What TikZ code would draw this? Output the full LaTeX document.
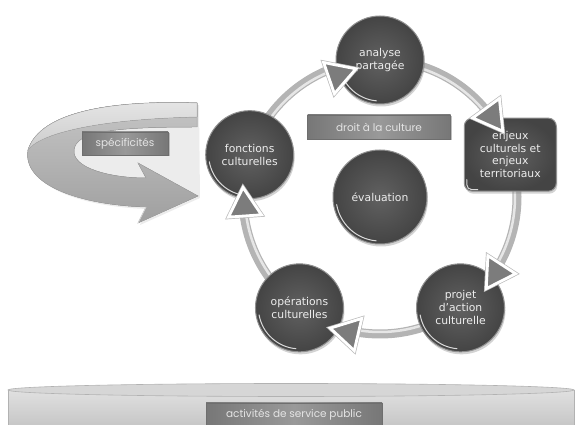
\documentclass[tikz,border=0pt]{standalone}
\usepackage{fontspec}
\setmainfont{DejaVu Sans}
\newfontfamily\lblfont{Poppins}
\usetikzlibrary{calc,shadows}
\definecolor{nodeIn}{HTML}{616161}
\definecolor{nodeOut}{HTML}{444444}
\definecolor{rimgray}{HTML}{909090}
\definecolor{nodetext}{HTML}{EDEDED}
\definecolor{boxA}{HTML}{777777}
\definecolor{boxB}{HTML}{999999}
\definecolor{boxEdge}{HTML}{6E6E6E}
\definecolor{lbltext}{HTML}{E4E4E4}
\definecolor{ringgray}{HTML}{B4B4B4}
\definecolor{ringlight}{HTML}{E6E6E6}
\definecolor{trifill}{HTML}{7C7C7C}
\definecolor{platTop}{HTML}{D6D6D6}
\newcommand\arrowtri[2]{%
  \begin{scope}[shift={($(C)+(#1:#2)$)}, rotate=#1]
    \draw[line width=4.2pt, gray!55, line join=miter] (0,-19) -- (16.5,9.5) -- (-16.5,9.5) -- cycle;
    \filldraw[fill=trifill, draw=white, line width=2.8pt, line join=miter] (0,-19) -- (16.5,9.5) -- (-16.5,9.5) -- cycle;
  \end{scope}}
\begin{document}
\begin{tikzpicture}[x=1pt,y=1pt,
  ball/.style={circle, minimum size=88pt, inner sep=0pt, inner color=nodeIn, outer color=nodeOut,
    draw=rimgray, line width=1pt, text=nodetext, font=\fontsize{10.8}{13}\selectfont, align=center,
    drop shadow={shadow xshift=1pt, shadow yshift=-2.5pt, opacity=.35}},
  enjbox/.style={rectangle, rounded corners=8pt, minimum width=92pt, minimum height=73pt, inner sep=0pt,
    inner color=nodeIn, outer color=nodeOut, draw=rimgray, line width=1pt, text=nodetext,
    font=\fontsize{10.8}{12.5}\selectfont, align=center,
    drop shadow={shadow xshift=1pt, shadow yshift=-2.5pt, opacity=.35}},
  lblbox/.style={rectangle, left color=boxA, right color=boxA, middle color=boxB, draw=boxEdge,
    line width=.6pt, text=lbltext, font=\lblfont\fontsize{10.5}{12}\selectfont, inner sep=0pt},
  hilite/.style={white, opacity=.8, line width=1pt, line cap=round}]
\useasboundingbox (0,0) rectangle (582,425);
\coordinate (C) at (380,228);

% platform
\fill[top color=white!88!black, bottom color=white!78!black] (8,35) -- (8,0) -- (574,0) -- (574,35) -- cycle;
\draw[gray!60, line width=.6pt] (8,0) -- (8,35) (574,0) -- (574,35);
\filldraw[fill=platTop, draw=gray!60, line width=.6pt] (291,35) ellipse [x radius=283, y radius=6.5];
\node[lblbox, minimum width=176pt, minimum height=24pt] (act) at (294,10) {activités de service public};

% ribbon arrow
\fill[gray!30, opacity=.5] (199,320) .. controls (110,323) and (42,311) .. (30,273)
  .. controls (24,238) and (82,218) .. (148,216) -- (140,200) -- (200,227) -- cycle;
\filldraw[draw=gray!70, line width=.5pt, top color=gray!45, bottom color=gray!75]
  (197,322) .. controls (110,325) and (40,313) .. (28,275)
  .. controls (22,240) and (80,220) .. (146,218)
  -- (138,202) -- (198,229) -- (138,262) -- (146,247)
  .. controls (110,247) and (72,257) .. (74,275)
  .. controls (76,293) and (110,298) .. (197,298) -- cycle;
\filldraw[draw=gray!60, line width=.4pt, top color=gray!20, bottom color=gray!40]
  (197,322) .. controls (110,325) and (40,313) .. (28,275)
  .. controls (40,292) and (100,306) .. (197,308) -- cycle;
\draw[white, opacity=.6, line width=.8pt] (146,218) -- (138,202);
\node[lblbox, minimum width=86pt, minimum height=23pt,
  drop shadow={shadow xshift=1.5pt, shadow yshift=-1.5pt, opacity=.45}] (spe) at (125,281.5) {spécificités};

% ring
\draw[ringgray, line width=9pt] (C) circle [radius=137];
\draw[ringlight, line width=2.5pt] (C) circle [radius=135];

% nodes
\node[ball] (ana) at ($(C)+(90:137)$) {analyse\\partagée};
\node[enjbox] (enj) at ($(C)+(18:137)$) {enjeux\\culturels et\\enjeux\\territoriaux};
\node[ball] (proj) at ($(C)+(-54:137)$) {projet\\d\symbol{39}action\\culturelle};
\node[ball] (ope) at ($(C)+(-126:137)$) {opérations\\culturelles};
\node[ball] (fon) at ($(C)+(162:137)$) {fonctions\\culturelles};
\node[ball, minimum size=94pt] (eva) at (C) {évaluation};

% highlights
\foreach \n in {ana,proj,ope,fon}{
  \draw[hilite] ($(\n)+(190:41)$) arc[start angle=190, end angle=265, radius=41];
}
\draw[hilite] ($(eva)+(190:44)$) arc[start angle=190, end angle=265, radius=44];
\draw[hilite] ($(enj.south west)+(3,12)$) -- ($(enj.south west)+(3,7)$) arc[start angle=180, end angle=270, radius=5] -- ($(enj.south west)+(14,2)$);

\node[lblbox, minimum width=143pt, minimum height=24pt,
  drop shadow={shadow xshift=1.5pt, shadow yshift=-1.5pt, opacity=.5}] (droit) at (379,298) {droit à la culture};

% arrow heads on the ring
\arrowtri{109}{129}
\arrowtri{36}{138}
\arrowtri{-33}{139}
\arrowtri{-103}{139}
\arrowtri{184}{136}
\end{tikzpicture}
\end{document}
